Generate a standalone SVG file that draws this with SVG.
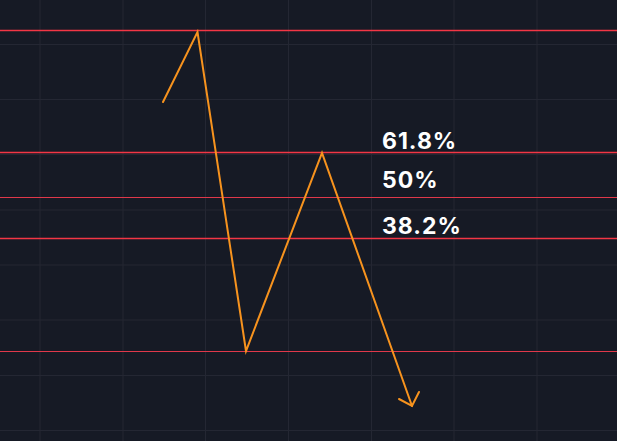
<svg xmlns="http://www.w3.org/2000/svg" width="617" height="441" viewBox="0 0 617 441">
<style>
.grid{stroke:#242733;stroke-width:1}
.lvl{stroke:#f23645;stroke-width:1.3}
.lvl2{stroke:#e0384a;stroke-width:1}
.path{fill:none;stroke:#f7931e;stroke-width:2;stroke-linejoin:miter;stroke-linecap:round}
.lbl{font-family:Inter,"Liberation Sans",sans-serif;font-weight:700;font-size:23px;fill:#ffffff;letter-spacing:1px}
</style>
<rect width="617" height="441" fill="#161a25"/>
<g id="grid">
<line class="grid" x1="40" y1="0" x2="40" y2="441"/>
<line class="grid" x1="123" y1="0" x2="123" y2="441"/>
<line class="grid" x1="205.5" y1="0" x2="205.5" y2="441"/>
<line class="grid" x1="288.5" y1="0" x2="288.5" y2="441"/>
<line class="grid" x1="371.5" y1="0" x2="371.5" y2="441"/>
<line class="grid" x1="454" y1="0" x2="454" y2="441"/>
<line class="grid" x1="537" y1="0" x2="537" y2="441"/>
<line class="grid" x1="0" y1="44.5" x2="617" y2="44.5"/>
<line class="grid" x1="0" y1="99.5" x2="617" y2="99.5"/>
<line class="grid" x1="0" y1="154.5" x2="617" y2="154.5"/>
<line class="grid" x1="0" y1="210" x2="617" y2="210"/>
<line class="grid" x1="0" y1="265" x2="617" y2="265"/>
<line class="grid" x1="0" y1="320" x2="617" y2="320"/>
<line class="grid" x1="0" y1="375.5" x2="617" y2="375.5"/>
<line class="grid" x1="0" y1="430.5" x2="617" y2="430.5"/>
</g>
<g id="levels">
<line class="lvl" x1="0" y1="30.5" x2="617" y2="30.5"/>
<line class="lvl" x1="0" y1="152.5" x2="617" y2="152.5"/>
<line class="lvl2" x1="0" y1="197.5" x2="617" y2="197.5"/>
<line class="lvl" x1="0" y1="238.5" x2="617" y2="238.5"/>
<line class="lvl2" x1="0" y1="351.5" x2="617" y2="351.5"/>
</g>
<g id="connectors">
<polyline class="path" points="163,102 197.5,32 246,351 322,153 412,406"/>
<polyline class="path" points="399,399 412,406 419,392"/>
</g>
<g id="labels">
<text class="lbl" x="382" y="148.5">61.8%</text>
<text class="lbl" x="382" y="188">50%</text>
<text class="lbl" x="382" y="233.5">38.2%</text>
</g>
</svg>
